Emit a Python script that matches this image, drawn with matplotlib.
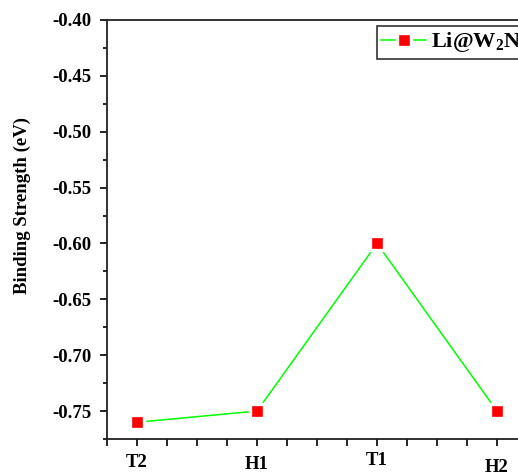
import matplotlib
matplotlib.use("Agg")
import matplotlib.pyplot as plt
import matplotlib.transforms as mtransforms
from matplotlib.ticker import MultipleLocator

plt.rcParams['font.family'] = ['Liberation Serif', 'DejaVu Serif']
plt.rcParams['font.weight'] = 'bold'
plt.rcParams['mathtext.fontset'] = 'custom'
plt.rcParams['mathtext.rm'] = 'Liberation Serif:bold'
plt.rcParams['mathtext.bf'] = 'Liberation Serif:bold'
plt.rcParams['mathtext.it'] = 'Liberation Serif:bold:italic'

sites = ['T2', 'H1', 'T1', 'H2']
binding = [-0.76, -0.75, -0.60, -0.75]
series_label = r'Li@W$_\mathbf{2}$N'
yticks = [-0.75, -0.70, -0.65, -0.60, -0.55, -0.50, -0.45, -0.40]

W, H = 518, 473
fig = plt.figure(figsize=(W / 100, H / 100), dpi=100)
left, right, top, bottom = 107, 527, 20, 439
ax = fig.add_axes([left / W, 1 - bottom / H, (right - left) / W, (bottom - top) / H])

xs = list(range(len(sites)))
ax.plot(xs, binding, color='#00ff00', lw=1.1, marker='s', ms=9.6,
        mfc='red', mec='white', mew=2.4, label=series_label, zorder=3)

ax.set_xlim(-0.25, 3.25)
ax.set_ylim(-0.775, -0.40)
ax.set_xticks(xs)
ax.set_xticklabels(sites)
ax.xaxis.set_minor_locator(MultipleLocator(0.25))
ax.set_yticks(yticks)
ax.set_yticklabels([f'{v:.2f}' for v in yticks])
ax.yaxis.set_minor_locator(MultipleLocator(0.025))

ax.tick_params(axis='both', which='major', direction='out', length=5, width=1.2,
               labelsize=13.5, pad=6)
ax.tick_params(axis='both', which='minor', direction='out', length=3, width=1.2)
ax.tick_params(axis='x', which='minor', length=5)
ax.tick_params(axis='x', which='major', length=5, pad=5.5)
for lab in ax.get_xticklabels() + ax.get_yticklabels():
    lab.set_fontweight('bold')

# small vertical offsets of the site labels (pixels, positive = lower)
label_shift_px = [0, 2, -2, 5]
for lab, dy in zip(ax.get_xticklabels(), label_shift_px):
    lab.set_transform(lab.get_transform() +
                      mtransforms.ScaledTranslation(0, -dy / 100, fig.dpi_scale_trans))

for s in ax.spines.values():
    s.set_linewidth(1.3)
    s.set_color('#222222')

ax.set_ylabel('Binding Strength (eV)', fontsize=13.5, fontweight='bold')
ax.yaxis.set_label_coords(-0.181, 0.558)

leg = ax.legend(loc='upper left', bbox_to_anchor=(377 / W, 1 - 26 / H),
                bbox_transform=fig.transFigure, borderaxespad=0,
                prop={'family': 'Liberation Serif', 'weight': 'bold', 'size': 16},
                handlelength=2.0, handletextpad=0.25, borderpad=0.2,
                fancybox=False, framealpha=1, edgecolor='#333333')
leg.get_frame().set_linewidth(1.2)

fig.savefig('out.png', dpi=100)
